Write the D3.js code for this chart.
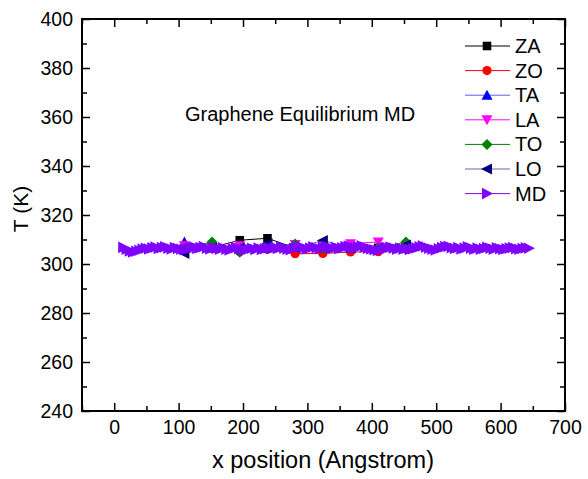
<!DOCTYPE html>
<html>
<head>
<meta charset="utf-8">
<script src="https://cdn.jsdelivr.net/npm/d3@7"></script>
<style>
    body { margin: 0; background: #fff; }
    text { font-family: Arial, "Liberation Sans", sans-serif; fill: #000; }
</style>
</head>
<body>
<script>
// phonon branch temperatures, sampled every ~43 A
let branchX = [109, 152, 195, 238, 281, 324, 367, 410, 453];
let zaT = [306.5, 306.8, 309.7, 310.5, 306.5, 306.8, 306.4, 306.6, 306.8];
let zoT = [306.0, 306.3, 305.0, 306.0, 304.2, 304.3, 304.9, 305.0, 306.0];
let taT = [309.0, 307.0, 306.5, 306.5, 306.8, 306.5, 306.5, 306.5, 306.5];
let laT = [307.5, 306.8, 307.5, 306.8, 308.0, 306.8, 308.3, 309.0, 306.8];
let toT = [306.5, 309.0, 304.8, 306.5, 308.2, 306.5, 306.5, 306.5, 309.0];
let loT = [304.3, 306.5, 306.5, 308.3, 306.5, 309.6, 306.5, 306.5, 307.8];

// MD profile, one value every 5 A
let mdX = [14, 19, 24, 29, 34, 39, 44, 49, 54, 59,
    64, 69, 74, 79, 84, 89, 94, 99, 104, 109,
    114, 119, 124, 129, 134, 139, 144, 149, 154, 159,
    164, 169, 174, 179, 184, 189, 194, 199, 204, 209,
    214, 219, 224, 229, 234, 239, 244, 249, 254, 259,
    264, 269, 274, 279, 284, 289, 294, 299, 304, 309,
    314, 319, 324, 329, 334, 339, 344, 349, 354, 359,
    364, 369, 374, 379, 384, 389, 394, 399, 404, 409,
    414, 419, 424, 429, 434, 439, 444, 449, 454, 459,
    464, 469, 474, 479, 484, 489, 494, 499, 504, 509,
    514, 519, 524, 529, 534, 539, 544, 549, 554, 559,
    564, 569, 574, 579, 584, 589, 594, 599, 604, 609,
    614, 619, 624, 629, 634, 639, 644];
let mdT = [306.8, 306.0, 305.3, 304.9, 305.2, 305.6, 306.1, 306.4, 306.1, 306.6,
    306.9, 306.3, 306.7, 307.0, 306.5, 306.1, 306.7, 306.3, 306.0, 305.8,
    306.1, 306.6, 306.9, 306.3, 306.7, 307.1, 306.4, 306.1, 306.7, 306.3,
    306.0, 306.6, 306.0, 305.7, 306.2, 306.7, 306.2, 305.9, 305.7, 306.1,
    306.4, 305.9, 306.5, 305.9, 306.2, 306.7, 306.2, 306.8, 306.3, 306.9,
    306.5, 306.0, 305.8, 306.4, 306.9, 307.1, 306.6, 306.1, 306.5, 307.0,
    306.6, 306.2, 306.8, 307.2, 306.8, 306.3, 306.8, 306.3, 306.6, 307.1,
    307.3, 306.8, 306.4, 307.0, 307.4, 306.9, 306.4, 306.1, 305.8, 305.5,
    305.8, 306.2, 306.5, 306.9, 306.5, 306.0, 306.5, 306.0, 306.4, 305.9,
    306.2, 306.6, 307.0, 307.4, 306.9, 306.4, 306.0, 305.7, 306.2, 306.7,
    307.1, 307.2, 306.7, 306.3, 306.7, 306.1, 306.5, 307.0, 306.5, 306.0,
    306.5, 306.0, 306.3, 306.8, 306.4, 306.0, 306.6, 306.2, 305.9, 306.2,
    306.5, 306.7, 306.2, 306.0, 306.3, 306.6, 306.4];

let xTicks = [0, 100, 200, 300, 400, 500, 600, 700];
let yTicks = [240, 260, 280, 300, 320, 340, 360, 380, 400];
let xMinor = [-50, 50, 150, 250, 350, 450, 550, 650];
let yMinor = [250, 270, 290, 310, 330, 350, 370, 390];

let series = [
    {name: "ZA", x: branchX, t: zaT, color: "#000000", line: "#000000", shape: "square"},
    {name: "ZO", x: branchX, t: zoT, color: "#ff0000", line: "#ff0000", shape: "circle"},
    {name: "TA", x: branchX, t: taT, color: "#0000ff", line: "#5c5cff", shape: "up"},
    {name: "LA", x: branchX, t: laT, color: "#ff00ff", line: "#ff00ff", shape: "down"},
    {name: "TO", x: branchX, t: toT, color: "#008000", line: "#008000", shape: "diamond"},
    {name: "LO", x: branchX, t: loT, color: "#000080", line: "#6666aa", shape: "left"},
    {name: "MD", x: mdX, t: mdT, color: "#8000ff", line: "#8000ff", shape: "right"}
];

let width = 588, height = 479;
let mLeft = 82, mRight = 565, mTop = 19, mBottom = 411;
let font = "Arial, 'Liberation Sans', sans-serif";

let svg = d3.select("body").append("svg")
    .attr("width", width)
    .attr("height", height);

let x = d3.scaleLinear().domain([-50, 700]).range([mLeft, mRight]);
let y = d3.scaleLinear().domain([240, 400]).range([mBottom, mTop]);

// marker paths, centred on 0,0
let markerPath = function (shape) {
    switch (shape) {
        case "square": return "M-4.3,-4.3H4.3V4.3H-4.3Z";
        case "circle": return d3.symbol(d3.symbolCircle, 66)();
        case "up": return "M0,-5.5L5.5,4.5L-5.5,4.5Z";
        case "down": return "M0,5.5L5.5,-4.5L-5.5,-4.5Z";
        case "diamond": return "M0,-5.5L5.5,0L0,5.5L-5.5,0Z";
        case "left": return "M-6,0L5,-5.5L5,5.5Z";
        case "right": return "M6,0L-5,-5.8L-5,5.8Z";
    }
};

let plot = svg.append("g");
let line = d3.line().x(d => x(d[0])).y(d => y(d[1]));

for (let s of series) {
    let pts = s.x.map((v, i) => [v, s.t[i]]).filter(d => d[1] !== undefined);
    plot.append("path")
        .attr("d", line(pts))
        .attr("fill", "none")
        .attr("stroke", s.line)
        .attr("stroke-width", 1);
    plot.append("g").selectAll("path")
        .data(pts)
        .enter().append("path")
        .attr("transform", d => `translate(${x(d[0])},${y(d[1])})`)
        .attr("d", markerPath(s.shape))
        .attr("fill", s.color);
}

// axes, ticks inward on all four sides
let drawAxis = function (axisFn, tr, major, minor, labels, pad) {
    let g = svg.append("g").attr("transform", tr)
        .call(axisFn(major).tickSizeInner(-8).tickSizeOuter(0).tickPadding(pad)
            .tickFormat(labels ? d3.format("d") : ""));
    g.select(".domain").remove();
    g.selectAll("line").attr("stroke", "#000").attr("stroke-width", 1.5);
    g.selectAll("text").style("font-size", "19.5px").style("font-family", font);
    let m = svg.append("g").attr("transform", tr)
        .call(axisFn(minor).tickSizeInner(-5).tickSizeOuter(0).tickFormat(""));
    m.select(".domain").remove();
    m.selectAll("line").attr("stroke", "#000").attr("stroke-width", 1.5);
};

drawAxis(v => d3.axisBottom(x).tickValues(v), `translate(0,${mBottom})`, xTicks, xMinor, true, 9);
drawAxis(v => d3.axisTop(x).tickValues(v), `translate(0,${mTop})`, xTicks, xMinor, false, 3);
drawAxis(v => d3.axisLeft(y).tickValues(v), `translate(${mLeft},0)`, yTicks, yMinor, true, 9);
drawAxis(v => d3.axisRight(y).tickValues(v), `translate(${mRight},0)`, yTicks, yMinor, false, 3);

svg.append("rect")
    .attr("x", mLeft).attr("y", mTop)
    .attr("width", mRight - mLeft).attr("height", mBottom - mTop)
    .attr("fill", "none")
    .attr("stroke", "#000")
    .attr("stroke-width", 2);

// titles
svg.append("text")
    .attr("x", 323).attr("y", 468)
    .attr("text-anchor", "middle")
    .style("font-size", "23.5px")
    .text("x position (Angstrom)");

svg.append("text")
    .attr("transform", "translate(28,209) rotate(-90)")
    .attr("text-anchor", "middle")
    .style("font-size", "21px")
    .text("T (K)");

svg.append("text")
    .attr("x", 185).attr("y", 121)
    .style("font-size", "20px")
    .text("Graphene Equilibrium MD");

// legend
let legend = svg.append("g").selectAll("g")
    .data(series)
    .enter().append("g")
    .attr("transform", (d, i) => `translate(465,${46 + i * 24.6})`);

legend.append("line")
    .attr("x1", 0).attr("x2", 45)
    .attr("stroke", d => d.line)
    .attr("stroke-width", 1);

legend.append("path")
    .attr("transform", "translate(22,0)")
    .attr("d", d => markerPath(d.shape))
    .attr("fill", d => d.color);

legend.append("text")
    .attr("x", 50).attr("y", 7)
    .style("font-size", "20px")
    .text(d => d.name);
</script>
</body>
</html>
